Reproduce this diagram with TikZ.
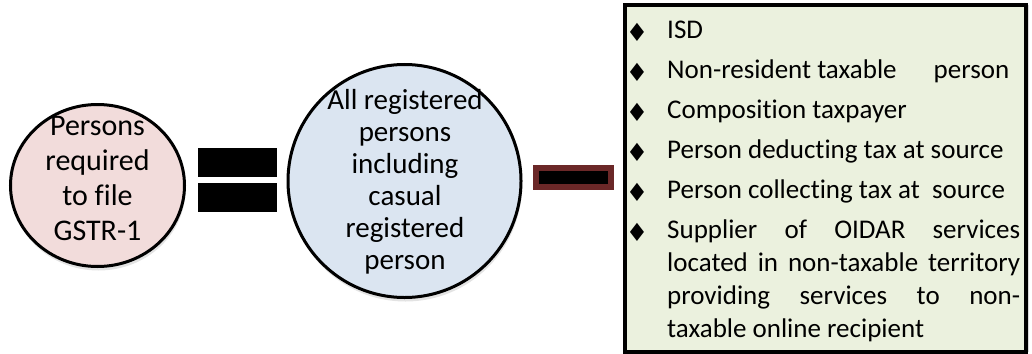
\documentclass[tikz,border=0pt]{standalone}
\usepackage{fontspec}
\setmainfont{Carlito}[Ligatures=NoCommon]
\newfontfamily\symfont{DejaVu Sans}
\usetikzlibrary{shadows,shapes.geometric}
\definecolor{pinkfill}{HTML}{F2DCDB}
\definecolor{bluefill}{HTML}{DBE5F1}
\definecolor{olivefill}{HTML}{EBF1DE}
\definecolor{darkmaroon}{HTML}{6B2828}
\begin{document}
\begin{tikzpicture}[x=1pt,y=-1pt,
  softshadow/.style={drop shadow={opacity=0.22,shadow xshift=1pt,shadow yshift=-4pt}},
  disc/.style={draw=black, line width=3pt, inner sep=0pt, softshadow},
  disctext/.style={align=center, inner sep=0pt},
  eqbar/.style={rectangle, fill=black, draw=none, inner sep=0pt,
    minimum width=79pt, minimum height=29pt},
  dashbar/.style={rectangle, fill=black, draw=darkmaroon, line width=6pt,
    inner sep=0pt, minimum width=75pt, minimum height=19pt},
  listbox/.style={rectangle, fill=olivefill, draw=black, line width=3.5pt,
    inner sep=0pt, minimum width=401pt, minimum height=347pt,
    drop shadow={opacity=0.3,shadow xshift=3pt,shadow yshift=0pt}},
  bulletmark/.style={inner sep=0pt, font=\symfont\fontsize{25}{25}\selectfont},
  itemtext/.style={anchor=base west, inner sep=0pt, font=\fontsize{27}{33}\selectfont}
]
\useasboundingbox (0,0) rectangle (1032,353);

% left disc
\node[disc, ellipse, fill=pinkfill, minimum width=174pt, minimum height=162pt] (filers) at (97.5,185.5) {};
\node[disctext, font=\fontsize{30}{35}\selectfont] (filerstext) at (97.5,178)
  {Persons\\required\\to file\\GSTR-1};

% equals sign
\node[eqbar] (eqtop) at (237.5,162) {};
\node[eqbar] (eqbot) at (237.5,197.5) {};

% middle disc
\node[disc, circle, fill=bluefill, minimum size=233pt] (regd) at (404.5,181) {};
\node[disctext, font=\fontsize{29}{32}\selectfont] (regdtext) at (405,182)
  {All registered\\persons\\including\\casual\\registered\\person};

% minus sign
\node[dashbar] (minus) at (573.5,177.5) {};

% list of exclusions
\node[listbox] (excl) at (825.5,178.5) {};

\foreach \i/\yb in {1/38,2/78,3/118,4/158,5/198,6/238}
  \node[bulletmark] (mark\i) at (637,\yb-5.5) {♦};

\node[itemtext] (item1) at (667,38) {ISD};
\node[itemtext] (item2) at (667,78) {Non-resident taxable\hspace{31pt} person};
\node[itemtext] (item3) at (667,118) {Composition taxpayer};
\node[itemtext] (item4) at (667,158) {Person deducting tax at source};
\node[itemtext] (item5) at (667,198) {Person collecting tax at\ \ source};
\node[itemtext] (item6a) at (667,238) {\makebox[353pt][s]{Supplier of OIDAR services}};
\node[itemtext] (item6b) at (667,271) {\makebox[353pt][s]{located in non-taxable territory}};
\node[itemtext] (item6c) at (667,304) {\makebox[353pt][s]{providing services to non-}};
\node[itemtext] (item6d) at (667,337) {taxable online recipient};
\end{tikzpicture}
\end{document}
